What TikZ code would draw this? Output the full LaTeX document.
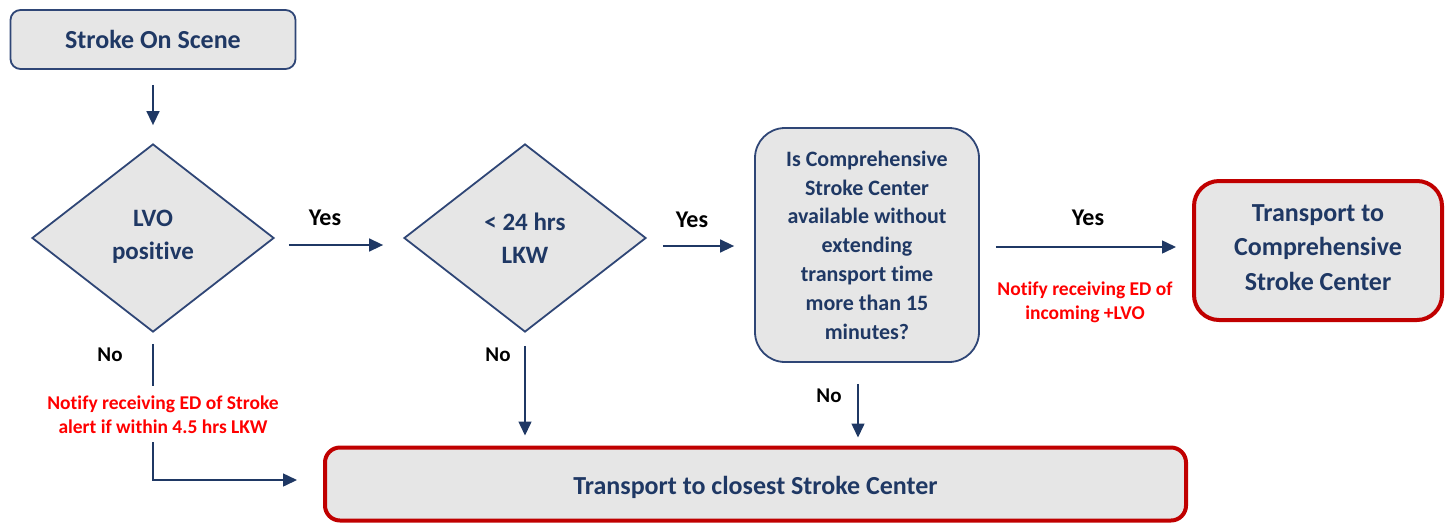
\documentclass[tikz,border=0pt]{standalone}
\usepackage{fontspec}
\setmainfont{Carlito}[Ligatures={NoCommon}]
\usetikzlibrary{shapes.geometric,arrows.meta,calc}
\definecolor{navy}{HTML}{1F3864}
\definecolor{edge}{HTML}{2F4676}
\definecolor{boxfill}{HTML}{E6E6E6}
\definecolor{darkred}{HTML}{C00000}
\definecolor{alert}{HTML}{FF0000}
\begin{document}
\begin{tikzpicture}[x=1pt,y=-1pt,
  procbox/.style={rectangle, rounded corners=10pt, draw=edge, line width=1.8pt, fill=boxfill,
    text=navy, font=\bfseries\fontsize{26}{34}\selectfont, align=center, inner sep=0pt},
  decision/.style={diamond, draw=edge, line width=1.8pt, fill=boxfill, text=navy,
    font=\bfseries\fontsize{25}{33}\selectfont, align=center, inner sep=0pt,
    minimum width=242pt, minimum height=188pt},
  endbox/.style={rectangle, draw=darkred, line width=4pt, fill=boxfill, text=navy,
    font=\bfseries\fontsize{26}{34.5}\selectfont, align=center, inner sep=0pt},
  yeslbl/.style={font=\bfseries\fontsize{24}{28}\selectfont, text=black, inner sep=0pt},
  nolbl/.style={font=\bfseries\fontsize{21}{24}\selectfont, text=black, inner sep=0pt},
  note/.style={font=\bfseries\fontsize{19.5}{24}\selectfont, text=alert, align=center, inner sep=0pt},
  conn/.style={draw=navy, line width=1.5pt},
  arr/.style={conn, -{Triangle[length=14pt,width=13pt]}}
]
\useasboundingbox (0,0) rectangle (1445,523);

\node[procbox, minimum width=285pt, minimum height=59pt] (scene) at (153,39.5) {Stroke On Scene};
\node[decision] (lvo) at (153,238) {\raisebox{1.5pt}[\height][\depth]{\begin{tabular}{@{}c@{}}LVO\\positive\end{tabular}}};
\node[decision] (lkw) at (525,238) {< 24 hrs\\LKW};
\node[procbox, rounded corners=30pt, minimum width=224pt, minimum height=234pt,
  font=\bfseries\fontsize{22}{28.8}\selectfont] (csc) at (867,245)
  {Is Comprehensive\\Stroke Center\\available without\\extending\\transport time\\more than 15\\minutes?};
\node[endbox, rounded corners=25pt, minimum width=248pt, minimum height=139pt] (tcsc) at (1318,250.5)
  {\raisebox{1.5pt}[\height][\depth]{\begin{tabular}{@{}c@{}}Transport to\\Comprehensive\\Stroke Center\end{tabular}}};
\node[endbox, rounded corners=15pt, minimum width=861pt, minimum height=73pt] (closest) at (755.5,484)
  {\raisebox{-3pt}[\height][\depth]{Transport to closest Stroke Center}};

\node[yeslbl] (yes1) at (325,218) {Yes};
\node[yeslbl] (yes2) at (692,220) {Yes};
\node[yeslbl] (yes3) at (1088,218) {Yes};
\node[nolbl] (no1) at (110,355) {No};
\node[nolbl] (no2) at (498,355) {No};
\node[nolbl] (no3) at (829,396) {No};
\node[note] (note1) at (163,415) {Notify receiving ED of Stroke\\alert if within 4.5 hrs LKW};
\node[note] (note2) at (1085,302) {Notify receiving ED of\\incoming +LVO};

\draw[arr, shorten <=15pt, shorten >=18pt] (scene) -- (lvo);
\draw[arr] ([xshift=14pt,yshift=-7pt]lvo.east) -- ([xshift=-20pt,yshift=-7pt]lkw.west);
\draw[arr] ([xshift=16pt,yshift=-8pt]lkw.east) -- ([xshift=-20pt,yshift=-1pt]csc.west);
\draw[arr] ([xshift=16pt,yshift=-2pt]csc.east) -- ([xshift=-16pt,yshift=3.5pt]tcsc.west);
\draw[conn, shorten <=11pt, shorten >=10pt] (lvo.south) -- (lvo.south |- note1.north);
\draw[arr, shorten <=8pt] (lvo.south |- note1.south) |- ([xshift=-26pt,yshift=4pt]closest.west);
\draw[arr, shorten <=13pt, shorten >=10pt] (lkw.south) -- (lkw.south |- closest.north);
\draw[arr, shorten <=21pt, shorten >=8pt] ([xshift=-9pt]csc.south) -- ([xshift=-9pt]csc.south |- closest.north);
\end{tikzpicture}
\end{document}
